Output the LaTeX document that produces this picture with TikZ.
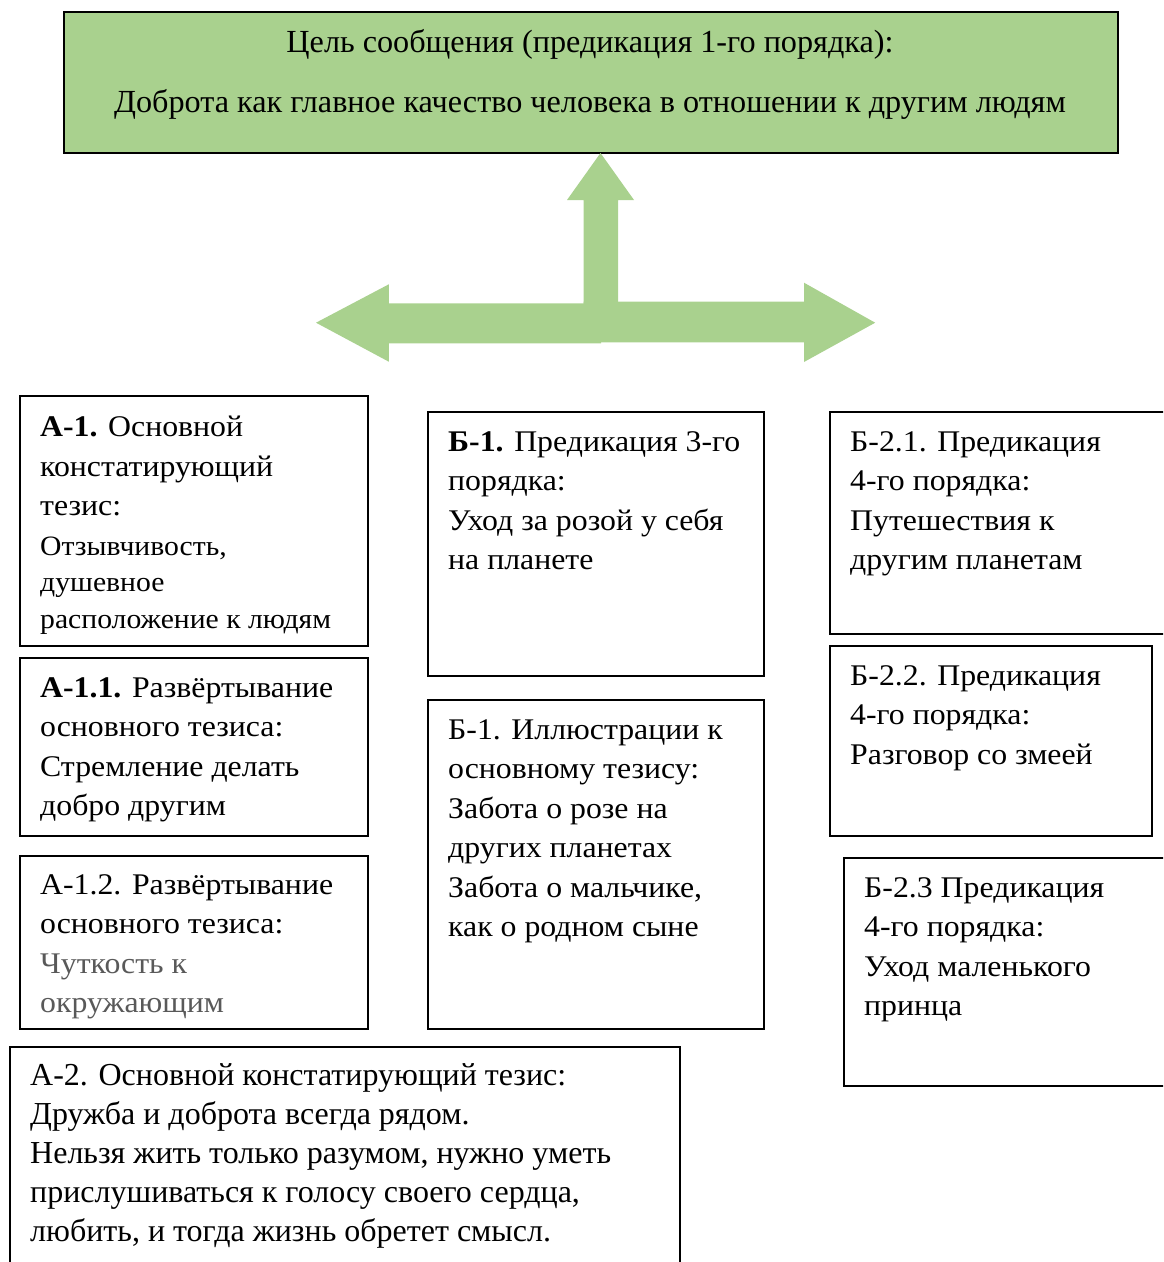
\documentclass[tikz,border=0pt]{standalone}
\usepackage{fontspec}
\setmainfont{Liberation Serif}
\newfontfamily\widefont[FakeStretch=1.06]{Liberation Serif}
\definecolor{grn}{HTML}{A9D18E}
\definecolor{gtext}{HTML}{595959}
\newcommand\smalltxt{\fontsize{28}{37}\selectfont}
\tikzset{
  box/.style={draw=black, line width=1.6pt, inner sep=0pt, anchor=north west},
  txt/.style={anchor=north west, inner sep=0pt, align=left, font=\widefont\fontsize{30}{39.5}\selectfont},
  big/.style={inner sep=0pt, font=\fontsize{32.2}{39.5}\selectfont},
  arr/.style={fill=grn, draw=none},
}
\begin{document}
\begin{tikzpicture}[x=1pt,y=-1pt]
\useasboundingbox (0,0) rectangle (1163,1262);
\clip (0,0) rectangle (1163,1262);
% goal box
\node[box, fill=grn, minimum width=1054pt, minimum height=141pt] (goal) at (63,11) {};
\node[big, anchor=base] (g1) at (590,52) {Цель сообщения (предикация 1-го порядка):};
\node[big, anchor=base] (g2) at (590,112) {Доброта как главное качество человека в отношении к другим людям};
% green arrows
\fill[arr] (583.6,330) -- (583.6,200) -- (567,200) -- (600.5,153) -- (634,200) -- (618,200) -- (618,330) -- cycle;
\fill[arr] (601,343.3) -- (388.8,343.3) -- (388.8,361.7) -- (316,322.7) -- (388.8,284.3) -- (388.8,303.3) -- (601,303.3) -- cycle;
\fill[arr] (583.6,301.7) -- (804,301.7) -- (804,282.7) -- (875.2,322.7) -- (804,362) -- (804,342.3) -- (583.6,342.3) -- cycle;
% boxes
\node[box, minimum width=348pt, minimum height=250pt] (a1) at (19,395) {};
\node[box, minimum width=348pt, minimum height=178pt] (a11) at (19,657) {};
\node[box, minimum width=348pt, minimum height=173pt] (a12) at (19,855) {};
\node[box, minimum width=336pt, minimum height=264pt] (b1) at (427,411) {};
\node[box, minimum width=336pt, minimum height=329pt] (b1i) at (427,699) {};
\node[box, minimum width=400pt, minimum height=222pt] (b21) at (829,411) {};
\node[box, minimum width=322pt, minimum height=190pt] (b22) at (829,645) {};
\node[box, minimum width=400pt, minimum height=228pt] (b23) at (843,857) {};
\node[box, minimum width=670pt, minimum height=300pt] (a2) at (9,1046) {};
% texts
\node[txt] (ta1) at (40,409) {\strut\textbf{А-1.} Основной\\констатирующий\\тезис:\\{\smalltxt Отзывчивость,}\\[-3pt]{\smalltxt душевное}\\[-3pt]{\smalltxt расположение к людям}};
\node[txt] (ta11) at (40,669.4) {\strut\textbf{А-1.1.} Развёртывание\\основного тезиса:\\Стремление делать\\добро другим};
\node[txt] (ta12) at (40,866.4) {\strut А-1.2. Развёртывание\\основного тезиса:\\{\color{gtext}Чуткость к}\\{\color{gtext}окружающим}};
\node[txt] (tb1) at (448,423.4) {\strut\textbf{Б-1.} Предикация 3-го\\порядка:\\Уход за розой у себя\\на планете};
\node[txt] (tb1i) at (448,711.4) {\strut Б-1. Иллюстрации к\\основному тезису:\\Забота о розе на\\других планетах\\Забота о мальчике,\\как о родном сыне};
\node[txt] (tb21) at (850,423.4) {\strut Б-2.1. Предикация\\4-го порядка:\\Путешествия к\\другим планетам};
\node[txt] (tb22) at (850,657.4) {\strut Б-2.2. Предикация\\4-го порядка:\\Разговор со змеей};
\node[txt] (tb23) at (864,869.4) {\strut Б-2.3 Предикация\\4-го порядка:\\Уход маленького\\принца};
\node[txt, font=\fontsize{32}{39}\selectfont] (ta2) at (30,1058) {\strut А-2. Основной констатирующий тезис:\\Дружба и доброта всегда рядом.\\Нельзя жить только разумом, нужно уметь\\прислушиваться к голосу своего сердца,\\любить, и тогда жизнь обретет смысл.};
\end{tikzpicture}
\end{document}
